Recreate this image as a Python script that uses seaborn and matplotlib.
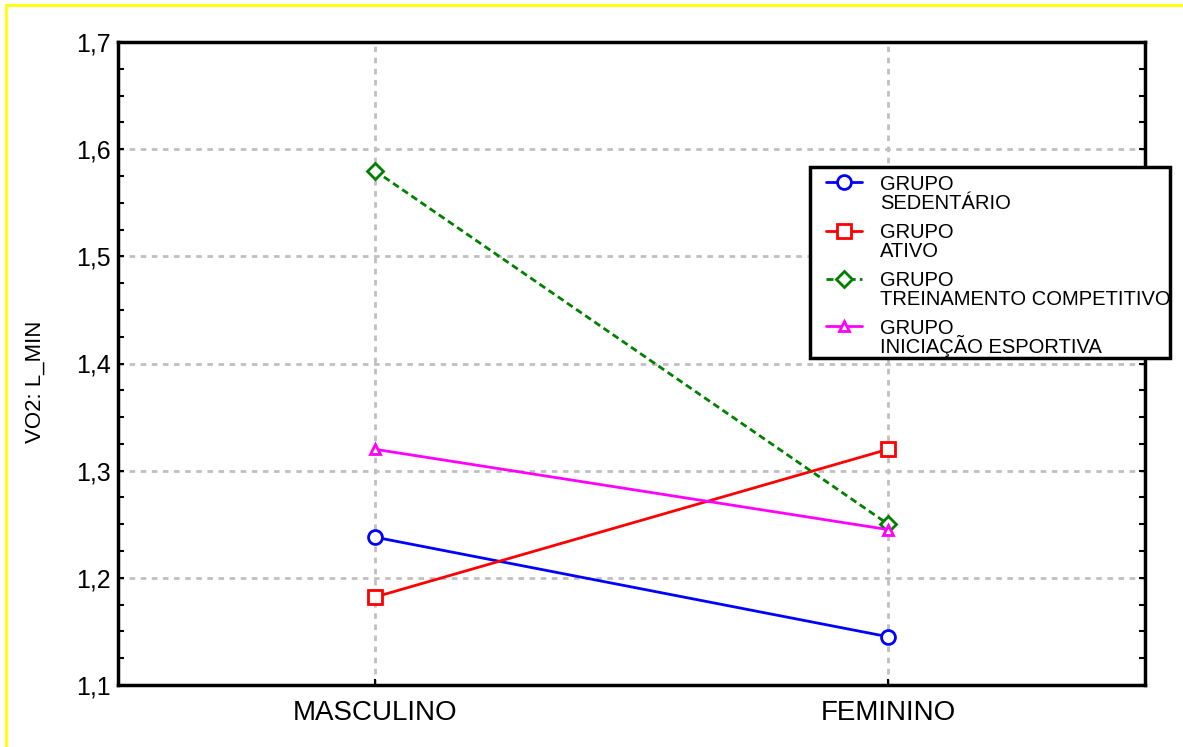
import matplotlib
matplotlib.use("Agg")
import matplotlib.pyplot as plt
import matplotlib.ticker as mticker
from matplotlib.patches import Rectangle
from matplotlib.lines import Line2D
from matplotlib.legend_handler import HandlerLine2D
import pandas as pd
import seaborn as sns

# data
sexo = ["MASCULINO", "FEMININO"]
grupos = ["GRUPO\nSEDENTÁRIO", "GRUPO\nATIVO",
          "GRUPO\nTREINAMENTO COMPETITIVO", "GRUPO\nINICIAÇÃO ESPORTIVA"]
sedentario = [1.238, 1.145]
ativo = [1.182, 1.320]
treinamento = [1.580, 1.250]
iniciacao = [1.320, 1.245]

cores = ["#0000ff", "#ff0000", "#008000", "#ff00ff"]
marcadores = ["o", "s", "D", "^"]
tracos = ["", "", (2.5, 1.5), ""]

rows = []
for g, vals in zip(grupos, [sedentario, ativo, treinamento, iniciacao]):
    for i, (s, v) in enumerate(zip(sexo, vals)):
        rows.append({"grupo": g, "sexo": s, "pos": i, "vo2": v})
df = pd.DataFrame(rows)


class TopLineHandler(HandlerLine2D):
    """legend handle drawn level with the first line of a two-line label"""
    def create_artists(self, legend, orig_handle, xdescent, ydescent,
                       width, height, fontsize, trans):
        arts = super().create_artists(legend, orig_handle, xdescent, ydescent,
                                      width, height, fontsize, trans)
        for a in arts:
            a.set_ydata(a.get_ydata() + 0.6 * fontsize)
        return arts


sns.set_style("white")
plt.rcParams["font.family"] = ["Liberation Sans", "DejaVu Sans"]
for k in ["text.color", "axes.labelcolor", "xtick.color", "ytick.color"]:
    plt.rcParams[k] = "black"

fig = plt.figure(figsize=(11.83, 7.47), dpi=100)
ax = fig.add_axes([118 / 1183, 1 - 685 / 747, (1145 - 118) / 1183, (685 - 42) / 747])

sns.lineplot(data=df, x="pos", y="vo2", hue="grupo", style="grupo",
             hue_order=grupos, style_order=grupos,
             palette=dict(zip(grupos, cores)),
             markers=dict(zip(grupos, marcadores)),
             dashes=dict(zip(grupos, tracos)),
             linewidth=2, legend=False, ax=ax, zorder=3)

sizes = [10, 9.5, 8, 7.5]
for line, ms in zip(ax.lines, sizes):
    c = line.get_color()
    line.set_markerfacecolor("white")
    line.set_markeredgecolor(c)
    line.set_markeredgewidth(2)
    line.set_markersize(ms)

ax.set_xlim(-0.5, 1.5)
ax.set_ylim(1.1, 1.7)
ax.set_xticks([0, 1])
ax.set_xticklabels(sexo, fontsize=20)
ax.yaxis.set_major_locator(mticker.MultipleLocator(0.1))
ax.yaxis.set_minor_locator(mticker.MultipleLocator(0.025))
ax.yaxis.set_major_formatter(mticker.FuncFormatter(lambda v, p: f"{v:.1f}".replace(".", ",")))
ax.tick_params(axis="y", which="both", direction="in", left=True, right=True,
               labelsize=18, width=1.5, length=4, pad=5)
ax.tick_params(axis="x", direction="in", bottom=True, length=4, width=1.5, pad=11)
ax.set_xlabel("")
ax.set_ylabel("VO2: L_MIN", fontsize=16)
ax.yaxis.set_label_coords(-0.070, 0.471)

ax.grid(True, which="major", color="#c0c0c0", linestyle=(0, (2, 2)), linewidth=2)
for sp in ax.spines.values():
    sp.set_linewidth(2.5)
    sp.set_color("black")

# legend box: fixed frame, text allowed to run past it
fig.patches.append(Rectangle((810 / 1183, 1 - 358 / 747), 360 / 1183, 191 / 747,
                             transform=fig.transFigure, facecolor="white",
                             edgecolor="black", linewidth=2.5, zorder=4))
leg = fig.legend(handles=list(ax.lines), labels=grupos, loc="upper left",
                 bbox_to_anchor=(816 / 1183, 1 - 165 / 747),
                 fontsize=14.5, handlelength=1.8, frameon=False,
                 borderpad=0.5, labelspacing=0.5, handletextpad=0.9,
                 borderaxespad=0, handler_map={Line2D: TopLineHandler()})
leg.set_zorder(5)
# tighten the two lines of each label (accented line needs less)
for t, ls in zip(leg.get_texts(), [1.0, 1.0, 1.0, 0.8]):
    t.set_linespacing(ls)

# yellow frame around the figure
fig.patches.append(Rectangle((6 / 1183, -0.1), 1.5, 1.1 - 5 / 747, transform=fig.transFigure,
                             fill=False, edgecolor="#ffff00", linewidth=2, clip_on=False))

fig.savefig("out.png", dpi=100)
